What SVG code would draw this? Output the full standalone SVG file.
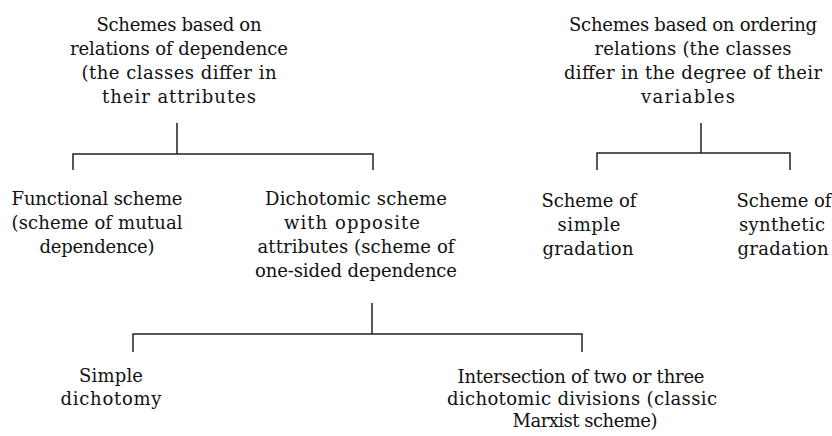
<svg xmlns="http://www.w3.org/2000/svg" width="832" height="436" viewBox="0 0 832 436">
<style>
  .t text { font-family: "DejaVu Serif", "Liberation Serif", serif; font-size: 18px; fill: #111; text-anchor: middle; }
  .c { fill: none; stroke: #222; stroke-width: 1.5; }
</style>
<rect width="832" height="436" fill="#fff"/>
<g id="connectors">
  <path class="c" d="M177 123 V154 M73 170 V154 H373 V170"/>
  <path class="c" d="M701 123 V153 M597 170 V153 H790 V170"/>
  <path class="c" d="M372 303 V334 M133 352 V334 H582 V352"/>
</g>
<g class="t">
<g id="n-dependence">
  <text x="179" y="31" textLength="165" lengthAdjust="spacing">Schemes based on</text>
  <text x="179" y="55" textLength="218" lengthAdjust="spacing">relations of dependence</text>
  <text x="179" y="79" textLength="195" lengthAdjust="spacing">(the classes differ in</text>
  <text x="179" y="103" textLength="154" lengthAdjust="spacing">their attributes</text>
</g>
<g id="n-ordering">
  <text x="693" y="31" textLength="248" lengthAdjust="spacing">Schemes based on ordering</text>
  <text x="693" y="55" textLength="197" lengthAdjust="spacing">relations (the classes</text>
  <text x="693" y="79" textLength="258" lengthAdjust="spacing">differ in the degree of their</text>
  <text x="688" y="103" textLength="94" lengthAdjust="spacing">variables</text>
</g>
<g id="n-functional">
  <text x="97" y="205" textLength="171" lengthAdjust="spacing">Functional scheme</text>
  <text x="97" y="229" textLength="171" lengthAdjust="spacing">(scheme of mutual</text>
  <text x="97" y="253" textLength="115" lengthAdjust="spacing">dependence)</text>
</g>
<g id="n-dichotomic">
  <text x="356" y="205" textLength="182" lengthAdjust="spacing">Dichotomic scheme</text>
  <text x="352" y="229" textLength="136" lengthAdjust="spacing">with opposite</text>
  <text x="356" y="253" textLength="197" lengthAdjust="spacing">attributes (scheme of</text>
  <text x="356" y="277" textLength="202" lengthAdjust="spacing">one-sided dependence</text>
</g>
<g id="n-simple-gradation">
  <text x="589" y="207" textLength="95" lengthAdjust="spacing">Scheme of</text>
  <text x="589" y="231" textLength="63" lengthAdjust="spacing">simple</text>
  <text x="588" y="255" textLength="91" lengthAdjust="spacing">gradation</text>
</g>
<g id="n-synthetic-gradation">
  <text x="784" y="207" textLength="95" lengthAdjust="spacing">Scheme of</text>
  <text x="782" y="231" textLength="86" lengthAdjust="spacing">synthetic</text>
  <text x="783" y="255" textLength="91" lengthAdjust="spacing">gradation</text>
</g>
<g id="n-simple-dichotomy">
  <text x="111" y="382" textLength="64" lengthAdjust="spacing">Simple</text>
  <text x="111" y="405" textLength="101" lengthAdjust="spacing">dichotomy</text>
</g>
<g id="n-intersection">
  <text x="581" y="383" textLength="247" lengthAdjust="spacing">Intersection of two or three</text>
  <text x="582" y="405" textLength="270" lengthAdjust="spacing">dichotomic divisions (classic</text>
  <text x="585" y="427" textLength="145" lengthAdjust="spacing">Marxist scheme)</text>
</g>
</g>
</svg>
